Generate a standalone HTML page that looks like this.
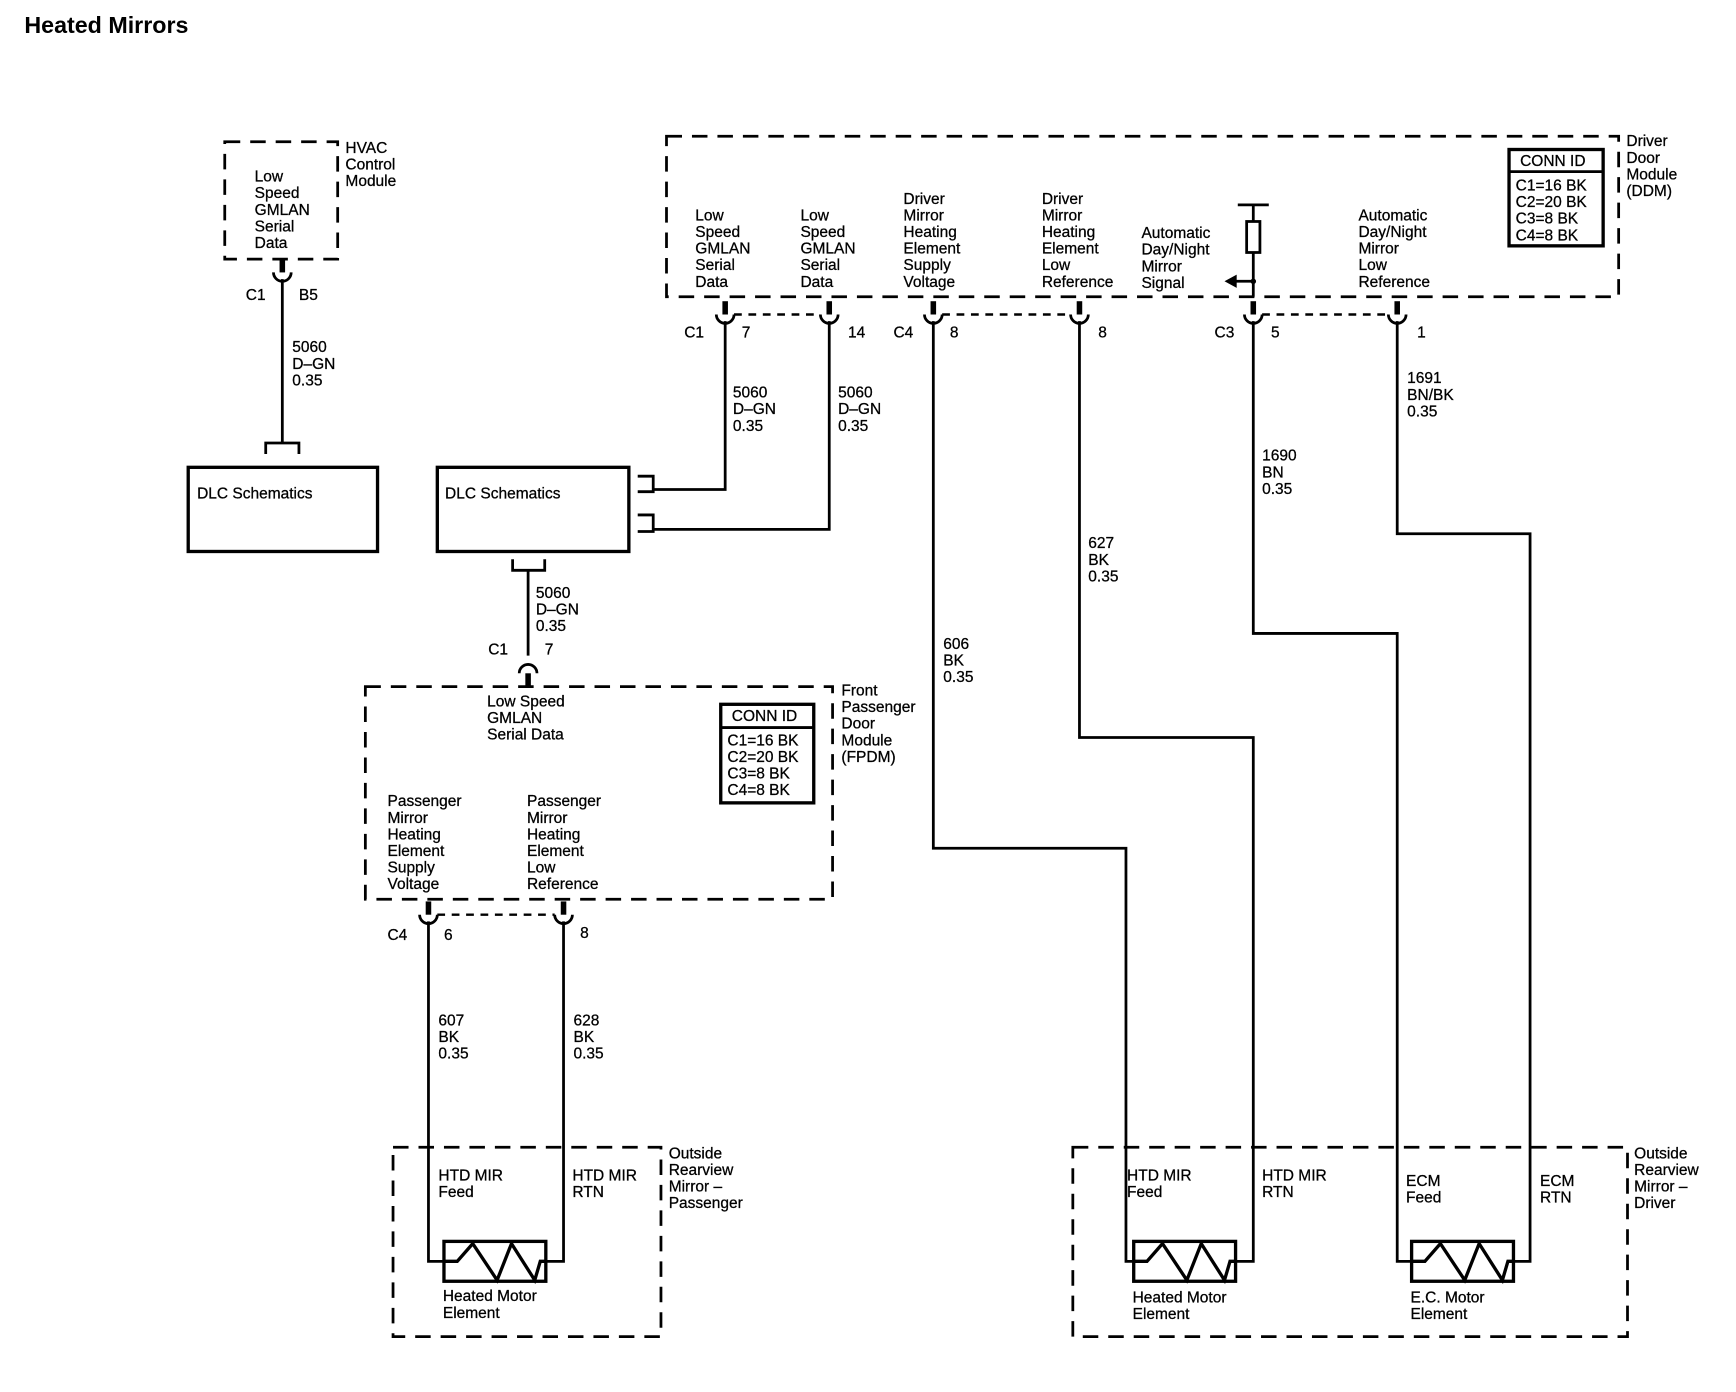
<!DOCTYPE html>
<html><head><meta charset="utf-8"><style>
html,body{margin:0;padding:0;background:#fff;}
svg{display:block;}
text{font-family:"Liberation Sans",sans-serif;font-size:14px;fill:#000;stroke:#000;stroke-width:0.25px;}
</style></head><body>
<svg width="1736" height="1392" viewBox="0 0 1568 1257" preserveAspectRatio="none" xmlns="http://www.w3.org/2000/svg">
<defs>
<g id="heat">
<rect x="0" y="1121" width="92" height="36" fill="none" stroke="#000" stroke-width="3"/>
<path d="M0,1139 H12 L26,1123 L48,1156 L61,1123 L82,1156 L87,1139 H92" fill="none" stroke="#000" stroke-width="3"/>
</g>
<g id="cup"><path d="M-8,-6 A8,8 0 0 0 8,-6" fill="none" stroke="#000" stroke-width="2.5"/><rect x="-2.5" y="-18" width="5" height="12" fill="#000"/></g>
</defs>
<text x="22" y="30" style="font-size:21px;font-weight:bold;stroke-width:0">Heated Mirrors</text>

<g fill="none" stroke="#000" stroke-width="2.5">
<g stroke-dasharray="14,9">
<rect x="203" y="128" width="102" height="106"/>
<rect x="602" y="123" width="860" height="145"/>
<rect x="330" y="620" width="422" height="192"/>
<rect x="355" y="1036" width="242" height="171"/>
<rect x="969" y="1036" width="501" height="171"/>
</g>
<g stroke-dasharray="7,6" stroke-width="2.2">
<path d="M663,284 H741"/><path d="M851,284 H967"/><path d="M1140,284 H1254"/><path d="M395,826 H501"/>
</g>
<path d="M255,252 V400 M240,410 V400 H270 V410"/>
<rect x="170" y="422" width="171" height="76" stroke-width="3"/>
<rect x="395" y="422" width="173" height="76" stroke-width="3"/>
<path d="M576,430 H590 V444 H576 M576,465 H590 V480 H576"/>
<path d="M590,442 H655 V290 M590,478 H749 V290"/>
<path d="M463,505 V515 H492 V505 M477,515 V592"/>
<path d="M843,290 V766 H1017 V1139 H1024"/>
<path d="M975,290 V666 H1132 V1139 H1116"/>
<path d="M1132,290 V572 H1262 V1139 H1275"/>
<path d="M1262,290 V482 H1382 V1139 H1366"/>
<path d="M387,832 V1139 H401 M509,832 V1139 H493"/>
<path d="M1118,185 H1146 M1132,185 V200 M1132,228 V268"/>
<rect x="1126" y="200" width="12" height="28"/>
<path d="M1132,254 H1116"/>
<rect x="1363" y="135" width="85" height="87" stroke-width="3"/>
<path d="M1363,155 H1448"/>
<rect x="651" y="636" width="84" height="89" stroke-width="3"/>
<path d="M651,657 H735"/>
</g>
<path d="M1106,254 L1117,248 V260 Z"/>
<circle cx="1132" cy="254" r="2.5"/>
<use href="#heat" transform="translate(401,0)"/>
<use href="#heat" transform="translate(1024,0)"/>
<use href="#heat" transform="translate(1275,0)"/>
<g transform="translate(255,252)"><use href="#cup"/></g>
<g transform="translate(655,290)"><use href="#cup"/></g>
<g transform="translate(749,290)"><use href="#cup"/></g>
<g transform="translate(843,290)"><use href="#cup"/></g>
<g transform="translate(975,290)"><use href="#cup"/></g>
<g transform="translate(1132,290)"><use href="#cup"/></g>
<g transform="translate(1262,290)"><use href="#cup"/></g>
<g transform="translate(387,832)"><use href="#cup"/></g>
<g transform="translate(509,832)"><use href="#cup"/></g>
<g transform="translate(477,602) scale(1,-1)"><use href="#cup"/></g>

<g>
<text x="312" y="138">HVAC</text><text x="312" y="153">Control</text><text x="312" y="168">Module</text>
<text x="230" y="164">Low</text><text x="230" y="179">Speed</text><text x="230" y="194">GMLAN</text><text x="230" y="209">Serial</text><text x="230" y="224">Data</text>
<text x="222" y="271">C1</text><text x="270" y="271">B5</text>
<text x="264" y="318">5060</text><text x="264" y="333">D–GN</text><text x="264" y="348">0.35</text>
<text x="178" y="450">DLC Schematics</text><text x="402" y="450">DLC Schematics</text>
<text x="484" y="540">5060</text><text x="484" y="555">D–GN</text><text x="484" y="570">0.35</text>
<text x="441" y="591">C1</text><text x="492" y="591">7</text>
<text x="760" y="628">Front</text><text x="760" y="643">Passenger</text><text x="760" y="658">Door</text><text x="760" y="673">Module</text><text x="760" y="688">(FPDM)</text>
<text x="440" y="638">Low Speed</text><text x="440" y="653">GMLAN</text><text x="440" y="668">Serial Data</text>
<text x="661" y="651">CONN ID</text>
<text x="657" y="673">C1=16 BK</text><text x="657" y="688">C2=20 BK</text><text x="657" y="703">C3=8 BK</text><text x="657" y="718">C4=8 BK</text>
<text x="350" y="728">Passenger</text><text x="350" y="743">Mirror</text><text x="350" y="758">Heating</text><text x="350" y="773">Element</text><text x="350" y="788">Supply</text><text x="350" y="803">Voltage</text>
<text x="476" y="728">Passenger</text><text x="476" y="743">Mirror</text><text x="476" y="758">Heating</text><text x="476" y="773">Element</text><text x="476" y="788">Low</text><text x="476" y="803">Reference</text>
<text x="350" y="849">C4</text><text x="401" y="849">6</text><text x="524" y="847">8</text>
<text x="396" y="926">607</text><text x="396" y="941">BK</text><text x="396" y="956">0.35</text>
<text x="518" y="926">628</text><text x="518" y="941">BK</text><text x="518" y="956">0.35</text>
<text x="604" y="1046">Outside</text><text x="604" y="1061">Rearview</text><text x="604" y="1076">Mirror –</text><text x="604" y="1091">Passenger</text>
<text x="396" y="1066">HTD MIR</text><text x="396" y="1081">Feed</text>
<text x="517" y="1066">HTD MIR</text><text x="517" y="1081">RTN</text>
<text x="400" y="1175">Heated Motor</text><text x="400" y="1190">Element</text>

<text x="1469" y="132">Driver</text><text x="1469" y="147">Door</text><text x="1469" y="162">Module</text><text x="1469" y="177">(DDM)</text>
<text x="1373" y="150">CONN ID</text>
<text x="1369" y="172">C1=16 BK</text><text x="1369" y="187">C2=20 BK</text><text x="1369" y="202">C3=8 BK</text><text x="1369" y="217">C4=8 BK</text>
<text x="628" y="199">Low</text><text x="628" y="214">Speed</text><text x="628" y="229">GMLAN</text><text x="628" y="244">Serial</text><text x="628" y="259">Data</text>
<text x="723" y="199">Low</text><text x="723" y="214">Speed</text><text x="723" y="229">GMLAN</text><text x="723" y="244">Serial</text><text x="723" y="259">Data</text>
<text x="816" y="184">Driver</text><text x="816" y="199">Mirror</text><text x="816" y="214">Heating</text><text x="816" y="229">Element</text><text x="816" y="244">Supply</text><text x="816" y="259">Voltage</text>
<text x="941" y="184">Driver</text><text x="941" y="199">Mirror</text><text x="941" y="214">Heating</text><text x="941" y="229">Element</text><text x="941" y="244">Low</text><text x="941" y="259">Reference</text>
<text x="1031" y="215">Automatic</text><text x="1031" y="230">Day/Night</text><text x="1031" y="245">Mirror</text><text x="1031" y="260">Signal</text>
<text x="1227" y="199">Automatic</text><text x="1227" y="214">Day/Night</text><text x="1227" y="229">Mirror</text><text x="1227" y="244">Low</text><text x="1227" y="259">Reference</text>
<text x="618" y="305">C1</text><text x="670" y="305">7</text><text x="766" y="305">14</text>
<text x="807" y="305">C4</text><text x="858" y="305">8</text><text x="992" y="305">8</text>
<text x="1097" y="305">C3</text><text x="1148" y="305">5</text><text x="1280" y="305">1</text>
<text x="662" y="359">5060</text><text x="662" y="374">D–GN</text><text x="662" y="389">0.35</text>
<text x="757" y="359">5060</text><text x="757" y="374">D–GN</text><text x="757" y="389">0.35</text>
<text x="1271" y="346">1691</text><text x="1271" y="361">BN/BK</text><text x="1271" y="376">0.35</text>
<text x="1140" y="416">1690</text><text x="1140" y="431">BN</text><text x="1140" y="446">0.35</text>
<text x="983" y="495">627</text><text x="983" y="510">BK</text><text x="983" y="525">0.35</text>
<text x="852" y="586">606</text><text x="852" y="601">BK</text><text x="852" y="616">0.35</text>
<text x="1476" y="1046">Outside</text><text x="1476" y="1061">Rearview</text><text x="1476" y="1076">Mirror –</text><text x="1476" y="1091">Driver</text>
<text x="1018" y="1066">HTD MIR</text><text x="1018" y="1081">Feed</text>
<text x="1140" y="1066">HTD MIR</text><text x="1140" y="1081">RTN</text>
<text x="1270" y="1071">ECM</text><text x="1270" y="1086">Feed</text>
<text x="1391" y="1071">ECM</text><text x="1391" y="1086">RTN</text>
<text x="1023" y="1176">Heated Motor</text><text x="1023" y="1191">Element</text>
<text x="1274" y="1176">E.C. Motor</text><text x="1274" y="1191">Element</text>
</g>
</svg>
</body></html>
